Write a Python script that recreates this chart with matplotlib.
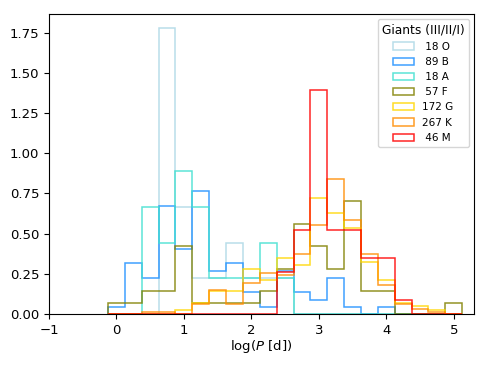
import numpy as np
import matplotlib
matplotlib.use("Agg")
import matplotlib.pyplot as plt

# bin centres in log(P [d]) (bin width 0.25)
bin_centers = [0.0, 0.25, 0.5, 0.75, 1.0, 1.25, 1.5, 1.75, 2.0, 2.25, 2.5,
               2.75, 3.0, 3.25, 3.5, 3.75, 4.0, 4.25, 4.5, 4.75, 5.0]
bin_width = 0.25

classes = ["O", "B", "A", "F", "G", "K", "M"]
counts = [18, 89, 18, 57, 172, 267, 46]
colors = ["lightblue", "dodgerblue", "turquoise", "olive", "gold", "darkorange", "red"]

# normalised (density) histogram heights
dens_O = [0, 0, 0, 1.778, 0.667, 0.222, 0.222, 0.444, 0.222, 0.222, 0.222,
          0, 0, 0, 0, 0, 0, 0, 0, 0, 0]
dens_B = [0.045, 0.315, 0.225, 0.674, 0.404, 0.764, 0.270, 0.315, 0.135, 0.045, 0.270,
          0.135, 0.090, 0.225, 0.045, 0, 0.045, 0, 0, 0, 0]
dens_A = [0, 0, 0.667, 0.444, 0.889, 0.667, 0.222, 0.222, 0.222, 0.444, 0.222,
          0, 0, 0, 0, 0, 0, 0, 0, 0, 0]
dens_F = [0.070, 0.070, 0.140, 0.140, 0.421, 0.070, 0.070, 0.070, 0.070, 0.140, 0.281,
          0.561, 0.421, 0.281, 0.702, 0.140, 0.140, 0, 0, 0, 0.070]
dens_G = [0, 0, 0, 0, 0.023, 0.070, 0.140, 0.140, 0.279, 0.209, 0.349,
          0.302, 0.721, 0.628, 0.535, 0.326, 0.209, 0.070, 0.047, 0.023, 0]
dens_K = [0, 0, 0.015, 0.015, 0, 0.060, 0.150, 0.060, 0.195, 0.255, 0.245,
          0.375, 0.554, 0.839, 0.584, 0.375, 0.180, 0.060, 0.030, 0.015, 0]
dens_M = [0, 0, 0, 0, 0, 0, 0, 0, 0, 0, 0.261,
          0.522, 1.391, 0.522, 0.522, 0.348, 0.348, 0.087, 0, 0, 0]

all_dens = [dens_O, dens_B, dens_A, dens_F, dens_G, dens_K, dens_M]

centers = np.array(bin_centers)
edges = np.append(centers - bin_width / 2, centers[-1] + bin_width / 2)

fig = plt.figure(figsize=(4.88, 3.66), dpi=100)
ax = fig.add_axes([0.1004, 0.1421, 0.8709, 0.8196])

for cls, n, col, d in zip(classes, counts, colors, all_dens):
    ax.hist(centers, bins=edges, weights=d, histtype="step", color=col,
            alpha=0.85, linewidth=1.1, label=f"{n:3d} {cls}")

ax.set_xlim(-1, 5.3)
ax.set_xticks([-1, 0, 1, 2, 3, 4, 5])
ax.set_yticks([0, 0.25, 0.5, 0.75, 1.0, 1.25, 1.5, 1.75])
ax.set_yticklabels([f"{v:.2f}" for v in [0, 0.25, 0.5, 0.75, 1.0, 1.25, 1.5, 1.75]])
ax.tick_params(labelsize=9.5)
ax.set_xlabel(r"log($P$ [d])", fontsize=9.5, labelpad=1)

ax.legend(title="Giants (III/II/I)", loc="upper right", fontsize=7.5,
          title_fontsize=8.8)

fig.savefig("out.png", dpi=100)
